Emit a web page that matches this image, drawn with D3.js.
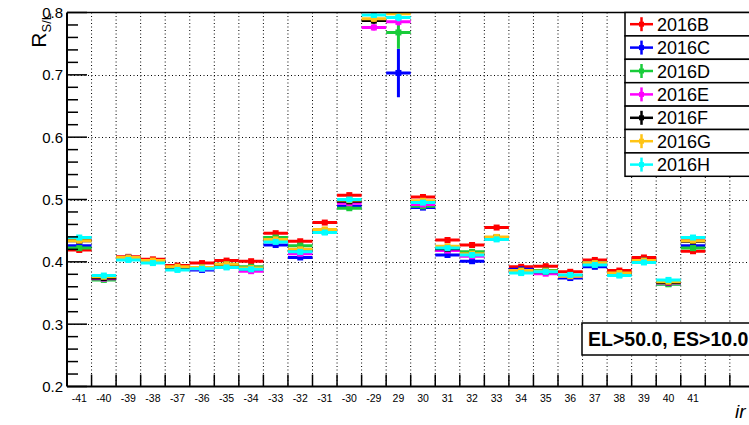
<!DOCTYPE html>
<html><head><meta charset="utf-8">
<script src="https://cdn.jsdelivr.net/npm/d3@7"></script>
<style>
html,body{margin:0;padding:0;background:#fff;overflow:hidden;}
svg{display:block;font-family:"Liberation Sans",Arial,Helvetica,sans-serif;}
</style></head><body>
<svg id="c" width="749" height="425"></svg>
<script>
const categories = ["-41","-40","-39","-38","-37","-36","-35","-34","-33","-32","-31","-30","-29","29","30","31","32","33","34","35","36","37","38","39","40","41","","",""];
const seriesNames = ["2016B","2016C","2016D","2016E","2016F","2016G","2016H"];
const seriesColors = ["#ff0000","#0000ff","#19cc3a","#ff00ff","#000000","#ffc414","#00ffff"];
const s2016B = [0.419,0.375,0.408,0.404,0.394,0.398,0.402,0.401,0.446,0.433,0.463,0.507,0.815,0.812,0.504,0.435,0.427,0.455,0.392,0.393,0.384,0.403,0.386,0.407,0.367,0.417];
const s2016C = [0.426,0.374,0.407,0.400,0.391,0.387,0.395,0.391,0.427,0.407,0.448,0.489,0.808,0.703,0.487,0.411,0.401,0.438,0.388,0.385,0.374,0.392,0.381,0.401,0.365,0.426];
const s2016D = [0.422,0.371,0.405,0.401,0.390,0.391,0.396,0.392,0.439,0.426,0.449,0.486,0.805,0.768,0.489,0.419,0.416,0.439,0.385,0.386,0.378,0.398,0.380,0.402,0.364,0.422];
const s2016E = [0.436,0.373,0.404,0.400,0.389,0.389,0.392,0.385,0.433,0.413,0.450,0.494,0.776,0.785,0.492,0.418,0.409,0.438,0.384,0.381,0.377,0.396,0.380,0.402,0.366,0.436];
const s2016F = [0.434,0.374,0.406,0.401,0.391,0.390,0.395,0.389,0.435,0.419,0.450,0.497,0.787,0.806,0.496,0.421,0.412,0.439,0.386,0.384,0.378,0.397,0.381,0.402,0.367,0.433];
const s2016G = [0.434,0.376,0.407,0.402,0.392,0.391,0.396,0.390,0.436,0.420,0.452,0.499,0.790,0.798,0.498,0.425,0.413,0.440,0.386,0.385,0.377,0.398,0.382,0.402,0.368,0.434];
const s2016H = [0.439,0.378,0.403,0.398,0.387,0.389,0.391,0.388,0.432,0.416,0.447,0.500,0.796,0.792,0.495,0.422,0.411,0.436,0.382,0.384,0.379,0.395,0.378,0.399,0.371,0.439];
const errB = [0.003,0.003,0.003,0.003,0.003,0.003,0.003,0.003,0.003,0.003,0.003,0.004,0.01,0.01,0.004,0.003,0.003,0.003,0.003,0.003,0.003,0.003,0.003,0.003,0.003,0.003];
const errC = [0.003,0.003,0.003,0.003,0.003,0.003,0.003,0.003,0.003,0.003,0.003,0.004,0.02,0.039,0.004,0.003,0.003,0.003,0.003,0.003,0.003,0.003,0.003,0.003,0.003,0.003];
const errD = [0.003,0.003,0.003,0.003,0.003,0.003,0.003,0.003,0.003,0.003,0.003,0.004,0.015,0.026,0.004,0.003,0.003,0.003,0.003,0.003,0.003,0.003,0.003,0.003,0.003,0.003];
const errOther = [0.002,0.002,0.002,0.002,0.002,0.002,0.002,0.002,0.002,0.002,0.002,0.003,0.005,0.006,0.003,0.002,0.002,0.002,0.002,0.002,0.002,0.002,0.002,0.002,0.002,0.002];
const yTicks = [0.2,0.3,0.4,0.5,0.6,0.7,0.8];
const seriesValues = [s2016B,s2016C,s2016D,s2016E,s2016F,s2016G,s2016H];
const seriesErrors = [errB,errC,errD,errOther,errOther,errOther,errOther];
const labelText = "EL>50.0, ES>10.0";
const xTitle = "ir";

const svg = d3.select("#c");
const L = 67, T = 12.5, B = 386.5;
const bw = 24.55;
const R = L + bw*categories.length;
const x = d3.scaleBand().domain(categories.map((c,i)=>i)).range([L,R]).paddingInner(0).paddingOuter(0);
const y = d3.scaleLinear().domain([0.2,0.8]).range([B,T]);

svg.append("defs").append("clipPath").attr("id","pc").append("rect")
  .attr("x",L).attr("y",T).attr("width",R-L).attr("height",B-T);

// grid
const g = svg.append("g");
g.selectAll(".vg").data(d3.range(1,categories.length)).enter().append("line")
  .attr("x1",i=>x(i)).attr("x2",i=>x(i)).attr("y1",T).attr("y2",B)
  .attr("stroke","#000").attr("stroke-width",1).attr("stroke-dasharray","1,2.5");
g.selectAll(".hg").data(yTicks.slice(1,-1)).enter().append("line")
  .attr("x1",L).attr("x2",R).attr("y1",d=>Math.round(y(d))+0.5).attr("y2",d=>Math.round(y(d))+0.5)
  .attr("stroke","#000").attr("stroke-width",1).attr("stroke-dasharray","1,2.5");

// data
const dg = svg.append("g").attr("clip-path","url(#pc)");
seriesValues.forEach((vals,si)=>{
  const col = seriesColors[si];
  const errs = seriesErrors[si];
  const sg = dg.append("g");
  vals.forEach((v,i)=>{
    if (v > 0.8) return;
    const x0 = x(i), x1 = x(i)+x.bandwidth(), xc = x(i)+x.bandwidth()/2;
    sg.append("line").attr("x1",x0).attr("x2",x1).attr("y1",y(v)).attr("y2",y(v))
      .attr("stroke",col).attr("stroke-width",3);
    sg.append("line").attr("x1",xc).attr("x2",xc).attr("y1",y(v-errs[i])).attr("y2",y(v+errs[i]))
      .attr("stroke",col).attr("stroke-width",3);
    sg.append("rect").attr("x",xc-3).attr("y",y(v)-3).attr("width",6).attr("height",6)
      .attr("fill",col);
  });
});

// frame
svg.append("line").attr("x1",L).attr("x2",R).attr("y1",T).attr("y2",T).attr("stroke","#000").attr("stroke-width",1.5);
svg.append("line").attr("x1",L).attr("x2",L).attr("y1",T).attr("y2",B).attr("stroke","#000").attr("stroke-width",2);
svg.append("line").attr("x1",L).attr("x2",R).attr("y1",B).attr("y2",B).attr("stroke","#000").attr("stroke-width",2);

// y ticks
const minor = d3.range(0.2,0.8001,0.02);
svg.selectAll(".ymt").data(minor).enter().append("line")
  .attr("x1",L).attr("x2",d=>L + (Math.abs(d*10-Math.round(d*10))<1e-6?20:11))
  .attr("y1",d=>y(d)).attr("y2",d=>y(d)).attr("stroke","#000").attr("stroke-width",1.5);
svg.selectAll(".yl").data(yTicks).enter().append("text")
  .attr("x",63).attr("y",d=>y(d)+5.5).attr("text-anchor","end")
  .attr("font-size","15px").text(d=>d.toFixed(1));

// x ticks
svg.selectAll(".xt").data(d3.range(1,categories.length)).enter().append("line")
  .attr("x1",i=>x(i)).attr("x2",i=>x(i)).attr("y1",B).attr("y2",B-12)
  .attr("stroke","#000").attr("stroke-width",1.5);
svg.selectAll(".xl").data(categories).enter().append("text")
  .attr("x",(c,i)=>x(i)+x.bandwidth()/2).attr("y",B+15)
  .attr("text-anchor","middle").attr("font-size","10.5px").text(c=>c);

// y title
const yt = svg.append("text").attr("transform","translate(46,13) rotate(-90)").attr("text-anchor","end");
yt.append("tspan").attr("font-size","21px").text("R");
yt.append("tspan").attr("font-size","13px").attr("dy","5").text("S/L");

// x title
svg.append("text").attr("x",735).attr("y",418).attr("font-size","19px").attr("font-style","italic").text(xTitle);

// legend
const lx = 625, ly = 12.5, rh = 23.4;
const lg = svg.append("g");
seriesNames.forEach((n,i)=>{
  const yy = ly + i*rh;
  lg.append("rect").attr("x",lx).attr("y",yy).attr("width",200).attr("height",rh)
    .attr("fill","#fff").attr("stroke","#000").attr("stroke-width",1.5);
  const cy = yy + rh/2;
  lg.append("line").attr("x1",630).attr("x2",653).attr("y1",cy).attr("y2",cy).attr("stroke",seriesColors[i]).attr("stroke-width",2.5);
  lg.append("line").attr("x1",641.5).attr("x2",641.5).attr("y1",cy-7).attr("y2",cy+7).attr("stroke",seriesColors[i]).attr("stroke-width",2.5);
  lg.append("rect").attr("x",639).attr("y",cy-2.5).attr("width",5).attr("height",5).attr("fill",seriesColors[i]);
  lg.append("text").attr("x",657).attr("y",cy+6.5).attr("font-size","18px").text(n);
});

// cut label
svg.append("rect").attr("x",582).attr("y",323).attr("width",200).attr("height",32)
  .attr("fill","#fff").attr("stroke","#000").attr("stroke-width",1.5);
svg.append("text").attr("x",588).attr("y",346).attr("font-size","19.5px").attr("font-weight","bold").text(labelText);
</script>
</body></html>
